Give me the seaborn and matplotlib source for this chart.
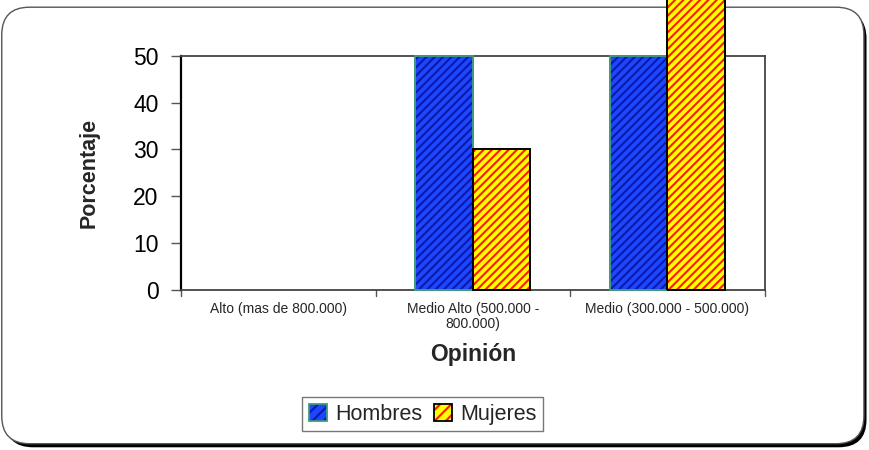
import matplotlib
matplotlib.use("Agg")
import matplotlib.pyplot as plt
from matplotlib.patches import Rectangle, FancyBboxPatch, Patch
from matplotlib.legend_handler import HandlerTuple
import seaborn as sns
import pandas as pd

categorias = ["Alto (mas de 800.000)", "Medio Alto (500.000 -\n800.000)", "Medio (300.000 - 500.000)"]
hombres = [0, 50, 50]
mujeres = [0, 30, 70]
series = ["Hombres", "Mujeres"]

df = pd.DataFrame({
    "Opinión": categorias * 2,
    "Porcentaje": hombres + mujeres,
    "Sexo": [series[0]] * 3 + [series[1]] * 3,
})

sns.set_style("white")
plt.rcParams["font.family"] = ["Liberation Sans", "DejaVu Sans"]
plt.rcParams["hatch.linewidth"] = 1.5

fig = plt.figure(figsize=(8.7, 4.5), dpi=100)

# rounded frame with a dark shadow on the right and bottom
fig.patches.append(FancyBboxPatch((0.006, 0.006), 0.99, 0.97, boxstyle="round,pad=0,rounding_size=0.032",
                                  transform=fig.transFigure, fc="black", ec="black", lw=0, zorder=-3,
                                  mutation_aspect=870 / 450))
fig.patches.append(FancyBboxPatch((0.002, 0.014), 0.991, 0.97, boxstyle="round,pad=0,rounding_size=0.032",
                                  transform=fig.transFigure, fc="white", ec="#555555", lw=1.0, zorder=-2,
                                  mutation_aspect=870 / 450))

ax = fig.add_axes([0.208, 0.356, 0.671, 0.52])
ax.patch.set_alpha(0)

estilos = {
    "Hombres": dict(fc="#1e46ff", hc="#0a1aa8", ec="#3f9a7c"),
    "Mujeres": dict(fc="#ffff00", hc="#ff1a00", ec="#000000"),
}

sns.barplot(data=df, x="Opinión", y="Porcentaje", hue="Sexo",
            palette={k: v["fc"] for k, v in estilos.items()},
            width=0.59, ax=ax, legend=False, saturation=1)

for cont, nombre in zip(ax.containers, series):
    st = estilos[nombre]
    for bar in cont:
        h = bar.get_height()
        if h <= 0:
            bar.set_visible(False)
            continue
        bar.set_facecolor(st["fc"])
        bar.set_edgecolor(st["hc"])
        bar.set_hatch("////")
        bar.set_linewidth(0)
        bar.set_clip_on(False)
        bar.set_zorder(3)
        x0, w = bar.get_x(), bar.get_width()
        ax.add_patch(Rectangle((x0, 0), w, h, fill=False, ec=st["ec"], lw=1.4,
                               clip_on=False, zorder=3.5))

ax.set_ylim(0, 50)
ax.set_xlim(-0.5, 2.5)
ax.set_yticks([0, 10, 20, 30, 40, 50])
ax.tick_params(axis="y", labelsize=16.5, length=7, width=1, direction="out", left=True,
               pad=9, color="#555555", labelcolor="black")
ax.set_xticks([0, 1, 2])
ax.set_xticklabels(categorias, fontsize=10, linespacing=1.05)
ax.tick_params(axis="x", length=0, pad=9)
for xb in [-0.5, 0.5, 1.5, 2.5]:
    ax.plot([xb, xb], [0, -1.3], color="#555555", lw=1, clip_on=False)

for s in ["left", "top", "right", "bottom"]:
    ax.spines[s].set_visible(True)
    ax.spines[s].set_color("#444444")
    ax.spines[s].set_linewidth(1.3)
    ax.spines[s].set_zorder(2)
ax.spines["left"].set_color("black")
ax.spines["left"].set_linewidth(1.6)

ax.set_ylabel("Porcentaje", fontsize=15.5, fontweight="bold", labelpad=24)
ax.set_xlabel("Opinión", fontsize=16.5, fontweight="bold", labelpad=9)

handles = []
for nombre in series:
    st = estilos[nombre]
    relleno = Patch(facecolor=st["fc"], edgecolor=st["hc"], hatch="///", lw=0)
    borde = Patch(facecolor="none", edgecolor=st["ec"], lw=1.3)
    handles.append((relleno, borde))
leg = fig.legend(handles=handles, labels=series, loc="center", bbox_to_anchor=(0.486, 0.079), ncol=2,
                 fontsize=15.5, frameon=True, fancybox=False, edgecolor="#555555",
                 handlelength=0.85, handleheight=0.85, handletextpad=0.4, columnspacing=0.5,
                 borderpad=0.3, borderaxespad=0,
                 handler_map={tuple: HandlerTuple(ndivide=1)})
leg.get_frame().set_linewidth(1.0)

fig.savefig("out.png", dpi=100)
